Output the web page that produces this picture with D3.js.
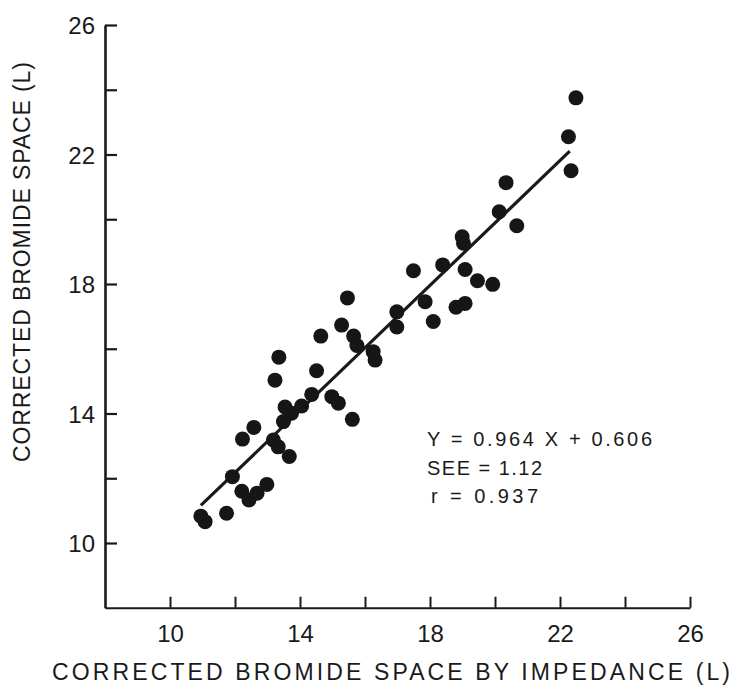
<!DOCTYPE html>
<html>
<head>
<meta charset="utf-8">
<script src="https://cdn.jsdelivr.net/npm/d3@7"></script>
<style>
  body { margin: 0; background: #fff; }
  text { font-family: "Liberation Sans", Arial, sans-serif; fill: #1a1a1a; }
</style>
</head>
<body>
<div id="chart"></div>
<script>
// bromide space: impedance estimate (x) vs measured (y), litres
const impedance = [10.95, 11.08, 11.74, 11.92, 12.21, 12.43, 12.68, 12.98, 12.23, 12.58,
  13.18, 13.33, 13.67, 13.23, 13.35, 13.54, 13.49, 13.74, 14.05, 14.36,
  14.51, 14.64, 14.98, 15.18, 15.61, 15.28, 15.46, 15.65, 15.75, 16.25,
  16.31, 16.98, 16.98, 17.49, 17.85, 18.10, 18.39, 18.99, 19.03, 19.08,
  18.80, 19.08, 19.46, 19.93, 20.34, 20.13, 20.67, 22.26, 22.34, 22.49]
const bromide = [10.83, 10.66, 10.92, 12.05, 11.60, 11.33, 11.54, 11.81, 13.21, 13.57,
  13.18, 12.97, 12.67, 15.03, 15.74, 14.20, 13.75, 14.01, 14.23, 14.59,
  15.32, 16.39, 14.52, 14.32, 13.82, 16.73, 17.57, 16.39, 16.10, 15.91,
  15.65, 17.14, 16.67, 18.41, 17.45, 16.84, 18.59, 19.46, 19.26, 18.45,
  17.28, 17.40, 18.10, 17.99, 21.13, 20.23, 19.80, 22.55, 21.50, 23.75]

const tickValues = [10, 12, 14, 16, 18, 20, 22, 24, 26]
const labelValues = [10, 14, 18, 22, 26]
const slope = 0.964, intercept = 0.606
const fitRange = [10.95, 22.3]
const statLines = ['Y = 0.964 X + 0.606', 'SEE = 1.12', 'r = 0.937']

const width = 734, height = 686

const svg = d3.select('#chart').append('svg')
  .attr('width', width)
  .attr('height', height)

const x = d3.scaleLinear().domain([8, 26]).range([105, 690])
const y = d3.scaleLinear().domain([8, 26]).range([607.75, 25])

const fmt = d => labelValues.includes(d) ? d : ''

// x axis, ticks pointing up into the plot
const xAxis = svg.append('g')
  .attr('transform', `translate(0,${y(8)})`)
  .call(d3.axisBottom(x).tickValues(tickValues).tickSize(-11).tickSizeOuter(0).tickFormat(fmt))
xAxis.select('.domain').attr('stroke', '#1a1a1a').attr('stroke-width', 2.2)
xAxis.selectAll('.tick line').attr('stroke', '#1a1a1a').attr('stroke-width', 2)
xAxis.selectAll('.tick text')
  .attr('y', 34)
  .attr('dy', 0)
  .style('font-size', '24px')

// y axis, ticks pointing right
const yAxis = svg.append('g')
  .attr('transform', `translate(${x(8)},0)`)
  .call(d3.axisLeft(y).tickValues(tickValues).tickSize(-12).tickSizeOuter(0).tickFormat(fmt))
yAxis.select('.domain').attr('stroke', '#1a1a1a').attr('stroke-width', 2.6)
yAxis.selectAll('.tick line').attr('stroke', '#1a1a1a').attr('stroke-width', 2.2)
yAxis.selectAll('.tick text')
  .attr('x', -10)
  .attr('dy', '0.36em')
  .style('font-size', '24px')

// regression line
svg.append('line')
  .attr('x1', x(fitRange[0]))
  .attr('y1', y(slope * fitRange[0] + intercept))
  .attr('x2', x(fitRange[1]))
  .attr('y2', y(slope * fitRange[1] + intercept))
  .attr('stroke', '#1a1a1a')
  .attr('stroke-width', 3.2)

svg.append('g').selectAll('circle')
  .data(impedance.map((d, i) => [d, bromide[i]]))
  .enter().append('circle')
  .attr('cx', d => x(d[0]))
  .attr('cy', d => y(d[1]))
  .attr('r', 7.5)
  .attr('fill', '#161616')

// stats block
const statLen = [225, 115, 107]
const statX = [427, 427, 431]
svg.append('g').selectAll('text')
  .data(statLines)
  .enter().append('text')
  .attr('x', (d, i) => statX[i])
  .attr('y', (d, i) => 446 + i * 28.5)
  .attr('textLength', (d, i) => statLen[i])
  .attr('lengthAdjust', 'spacing')
  .style('font-size', '20px')
  .text(d => d)

// axis titles
svg.append('text')
  .attr('x', 52)
  .attr('y', 680)
  .attr('textLength', 678)
  .attr('lengthAdjust', 'spacing')
  .style('font-size', '23px')
  .text('CORRECTED BROMIDE SPACE BY IMPEDANCE (L)')

svg.append('text')
  .attr('transform', 'translate(30,462) rotate(-90)')
  .attr('textLength', 400)
  .attr('lengthAdjust', 'spacing')
  .style('font-size', '23px')
  .text('CORRECTED BROMIDE SPACE (L)')
</script>
</body>
</html>
